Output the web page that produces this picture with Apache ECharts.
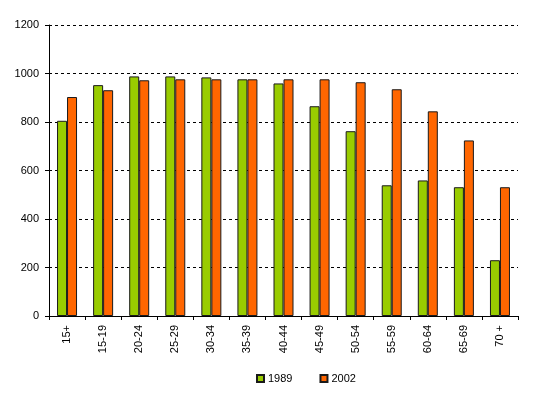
<!DOCTYPE html>
<html>
<head>
<meta charset="utf-8">
<script src="https://cdn.jsdelivr.net/npm/echarts@6/dist/echarts.min.js"></script>
<style>
  html, body { margin: 0; padding: 0; background: #fff; }
  #chart { width: 533px; height: 398px; }
</style>
</head>
<body>
<div id="chart"></div>
<script>
const categories = ['15+', '15-19', '20-24', '25-29', '30-34', '35-39', '40-44', '45-49', '50-54', '55-59', '60-64', '65-69', '70 +'];
const values1989 = [805, 952, 988, 988, 984, 976, 959, 865, 762, 539, 559, 531, 230];
const values2002 = [903, 931, 972, 976, 976, 976, 976, 976, 964, 935, 844, 724, 531];

const chart = echarts.init(document.getElementById('chart'));

const barStyle = (color) => ({
  color: color,
  borderColor: '#1a1a1a',
  borderWidth: 1
});

chart.setOption({
  animation: false,
  textStyle: { fontFamily: 'Liberation Sans, Arial, sans-serif' },
  grid: { left: 49, right: 15, top: 25, bottom: 82 },
  legend: {
    top: 373,
    left: 256,
    padding: 0,
    itemWidth: 7,
    itemHeight: 7,
    itemGap: 27,
    icon: 'rect',
    textStyle: { fontSize: 11, color: '#000', padding: [0, 0, 0, -1] },
    data: ['1989', '2002']
  },
  xAxis: {
    type: 'category',
    data: categories,
    axisLine: { lineStyle: { color: '#000', width: 1 } },
    axisTick: { show: true, length: 4, lineStyle: { color: '#000' } },
    axisLabel: { rotate: 90, fontSize: 11, color: '#000', margin: 9 }
  },
  yAxis: {
    type: 'value',
    min: 0,
    max: 1200,
    interval: 200,
    axisLine: { show: true, lineStyle: { color: '#000' } },
    axisTick: { show: true, length: 4, lineStyle: { color: '#000' } },
    axisLabel: { fontSize: 11, color: '#000', margin: 10, formatter: (v) => String(v) },
    splitLine: { lineStyle: { color: '#000', type: [3, 3], width: 1 } }
  },
  series: [
    {
      name: '1989',
      type: 'bar',
      data: values1989,
      barWidth: 10,
      barGap: '0%',
      itemStyle: barStyle('#99cc00')
    },
    {
      name: '2002',
      type: 'bar',
      data: values2002,
      barWidth: 10,
      itemStyle: barStyle('#ff6600')
    }
  ]
});
</script>
</body>
</html>
